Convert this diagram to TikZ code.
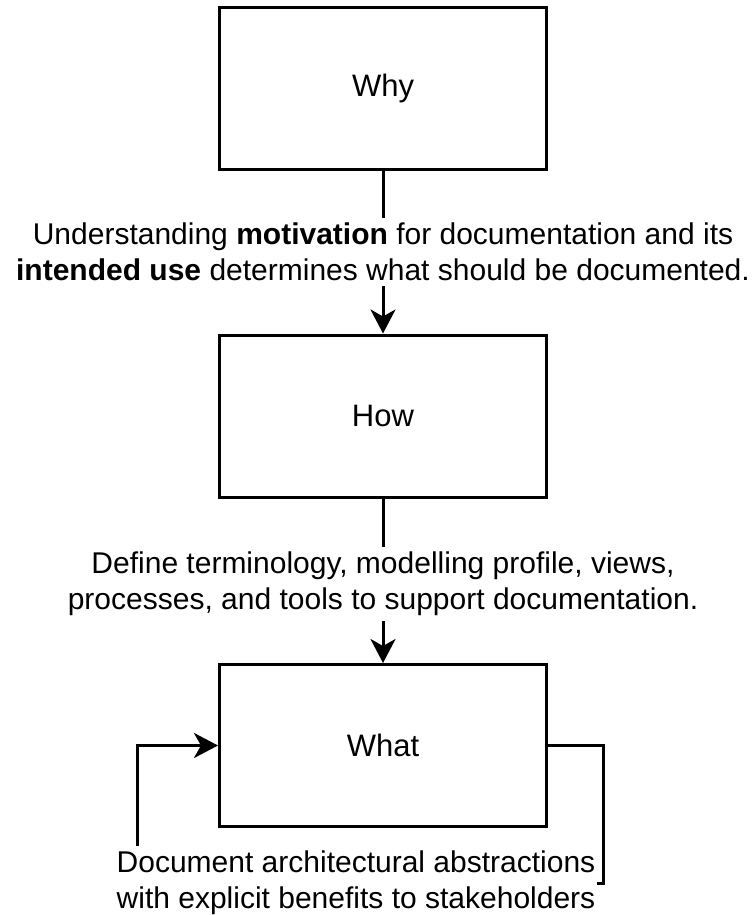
\documentclass[tikz,border=0pt]{standalone}
\usepackage{fontspec}
\setmainfont{Liberation Sans}
\usetikzlibrary{arrows.meta}
\begin{document}
\begin{tikzpicture}[x=1pt,y=-1pt,
  box/.style={draw=black, line width=3pt, minimum width=327pt, minimum height=162pt,
    inner sep=0pt, font=\fontsize{31}{36}\selectfont},
  lbl/.style={align=center, inner xsep=2pt, inner ysep=5pt, font=\fontsize{30}{36}\selectfont},
  conn/.style={line width=3pt, draw=black},
  tip/.style={-{Stealth[length=24pt,width=25pt,inset=7pt]}}]
\useasboundingbox (0,0) rectangle (753,915);
\fill[white] (0,0) rectangle (753,915);

% the three stages
\node[box] (why)  at (383,88.5)  {Why};
\node[box] (how)  at (383,416)   {How};
\node[box] (what) at (383,745.5) {What};

% transition texts
\node[lbl] (l1) at (383,252) {Understanding \textbf{motivation} for documentation and its\\
  \textbf{intended use} determines what should be documented.};
\node[lbl] (l2) at (383,584) {Define terminology, modelling profile, views,\\
  processes, and tools to support documentation.};
\node[lbl] (l3) at (356,883) {Document architectural abstractions\\
  with explicit benefits to stakeholders};

% helper columns for the feedback loop
\coordinate (loopx) at (137,0);
\coordinate (backx) at (603,0);

% connectors
\draw[conn] (why.south) -- (l1.north);
\draw[conn,tip] (l1.south) -- (how.north);
\draw[conn] (how.south) -- (l2.north);
\draw[conn,tip] (l2.south) -- (what.north);
\draw[conn,tip] (l3.north -| loopx) |- (what.west);
\draw[conn] (what.east) -- (what.east -| backx) |- (l3.east);
\end{tikzpicture}
\end{document}
